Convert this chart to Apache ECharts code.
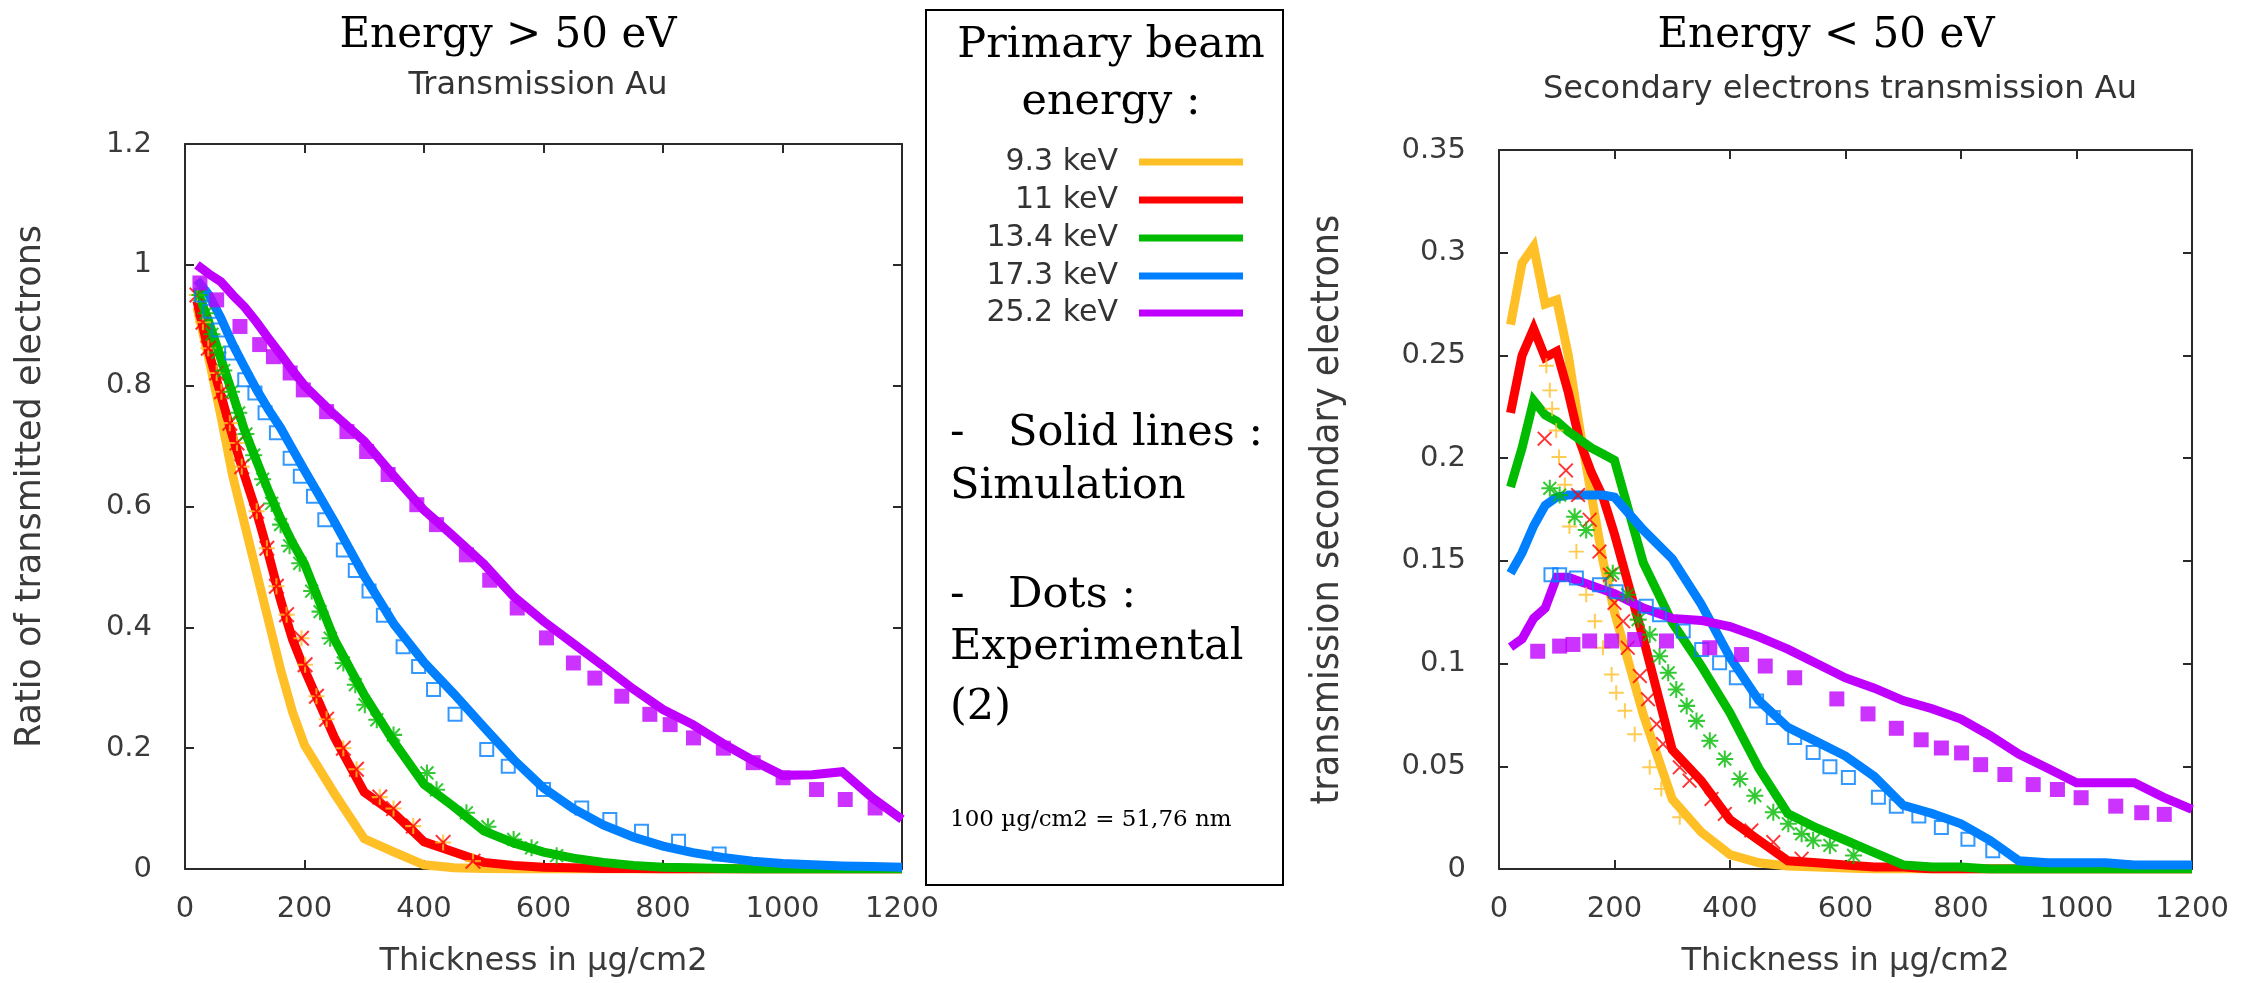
<!DOCTYPE html>
<html>
<head>
<meta charset="utf-8">
<script src="https://cdn.jsdelivr.net/npm/echarts@6/dist/echarts.min.js"></script>
<style>
html,body{margin:0;padding:0;background:#fff;}
#chart{width:2250px;height:983px;}
</style>
</head>
<body>
<div id="chart"></div>
<script>
// ---------- DATA ----------
const ENERGIES = ['9.3 keV', '11 keV', '13.4 keV', '17.3 keV', '25.2 keV'];
const COLORS = ['#ffbf26', '#ff0000', '#00bb00', '#0080ff', '#bf00ff'];

// thickness (µg/cm2) of simulation points
const X_SIM = [20,40,60,80,100,120,140,160,180,200,250,300,350,400,450,500,550,600,650,700,750,800,850,900,950,1000,1050,1100,1150,1200];

// Left chart: Energy > 50 eV — simulation (ratio of transmitted electrons)
const SIM_L_93  = [0.93,0.845,0.75,0.65,0.57,0.49,0.41,0.33,0.26,0.205,0.125,0.05,0.028,0.007,0.002,0.001,0,0,0,0,0,0,0,0,0,0,0,0,0,0];
const SIM_L_11  = [0.94,0.855,0.785,0.715,0.65,0.59,0.52,0.445,0.38,0.33,0.218,0.127,0.092,0.045,0.028,0.011,0.006,0.003,0.002,0.001,0.001,0,0,0,0,0,0,0,0,0];
const SIM_L_134 = [0.96,0.905,0.845,0.785,0.725,0.675,0.625,0.58,0.54,0.505,0.38,0.288,0.21,0.14,0.103,0.063,0.043,0.028,0.018,0.011,0.006,0.003,0.002,0.001,0,0,0,0,0,0];
const SIM_L_173 = [0.975,0.95,0.912,0.868,0.83,0.793,0.76,0.73,0.695,0.66,0.575,0.485,0.405,0.342,0.29,0.235,0.181,0.134,0.1,0.073,0.053,0.038,0.027,0.019,0.013,0.009,0.007,0.005,0.004,0.003];
const SIM_L_252 = [1.0,0.985,0.972,0.95,0.93,0.905,0.878,0.852,0.825,0.8,0.752,0.708,0.65,0.594,0.55,0.505,0.451,0.41,0.373,0.336,0.298,0.264,0.239,0.208,0.18,0.155,0.156,0.161,0.118,0.082];

// Left chart: experimental points [thickness, ratio]
const EXP_L_93  = [[20,0.95],[30,0.905],[39,0.862],[53,0.821],[61,0.79],[75,0.738],[87,0.705],[95,0.666],[120,0.592],[137,0.531],[153,0.468],[170,0.421],[195,0.382],[201,0.338],[220,0.286],[237,0.248],[265,0.2],[287,0.165],[326,0.119],[349,0.1],[382,0.071],[432,0.044],[482,0.013]];
const EXP_L_11  = [[20,0.95],[30,0.905],[39,0.862],[53,0.821],[61,0.79],[75,0.738],[87,0.705],[95,0.666],[120,0.592],[137,0.531],[153,0.468],[170,0.421],[195,0.382],[201,0.338],[220,0.286],[237,0.248],[265,0.2],[287,0.165],[326,0.119],[349,0.1],[382,0.071],[432,0.044],[482,0.013]];
const EXP_L_134 = [[25,0.95],[35,0.92],[45,0.885],[55,0.855],[65,0.825],[78,0.79],[90,0.755],[102,0.72],[115,0.685],[130,0.645],[145,0.605],[160,0.57],[175,0.535],[192,0.506],[212,0.46],[226,0.426],[243,0.382],[265,0.341],[285,0.305],[301,0.272],[321,0.247],[349,0.222],[405,0.159],[421,0.131],[471,0.093],[507,0.07],[550,0.049],[580,0.035],[622,0.022]];
const EXP_L_173 = [[28,0.95],[42,0.923],[56,0.892],[78,0.854],[100,0.81],[117,0.788],[134,0.755],[153,0.722],[176,0.68],[193,0.65],[215,0.617],[234,0.578],[265,0.528],[285,0.494],[308,0.46],[332,0.42],[365,0.368],[391,0.335],[416,0.297],[452,0.256],[505,0.198],[541,0.17],[600,0.1315],[664,0.101],[711,0.082],[764,0.0625],[826,0.046],[894,0.025]];
const EXP_L_252 = [[25,0.97],[53,0.942],[92,0.898],[125,0.868],[148,0.848],[176,0.821],[198,0.793],[237,0.757],[271,0.724],[304,0.691],[340,0.653],[388,0.603],[421,0.57],[471,0.52],[510,0.478],[556,0.432],[605,0.3825],[650,0.341],[686,0.316],[731,0.286],[778,0.256],[812,0.239],[851,0.217],[901,0.2],[951,0.176],[1001,0.151],[1057,0.1315],[1105,0.115],[1155,0.101]];

// Right chart: Energy < 50 eV — simulation (transmission secondary electrons)
const SIM_R_93  = [0.265,0.295,0.303,0.275,0.277,0.25,0.214,0.182,0.15,0.125,0.075,0.034,0.018,0.007,0.003,0.0015,0.001,0.0005,0,0,0,0,0,0,0,0,0,0,0,0];
const SIM_R_11  = [0.222,0.25,0.263,0.249,0.252,0.232,0.208,0.193,0.181,0.163,0.112,0.058,0.043,0.024,0.014,0.004,0.003,0.002,0.001,0.001,0,0,0,0,0,0,0,0,0,0];
const SIM_R_134 = [0.186,0.205,0.228,0.221,0.218,0.213,0.209,0.205,0.202,0.199,0.149,0.12,0.099,0.076,0.049,0.027,0.02,0.014,0.008,0.002,0.001,0.001,0,0,0,0,0,0,0,0];
const SIM_R_173 = [0.144,0.154,0.167,0.177,0.181,0.182,0.182,0.182,0.182,0.181,0.165,0.151,0.129,0.103,0.082,0.069,0.062,0.055,0.045,0.031,0.027,0.022,0.014,0.004,0.003,0.003,0.003,0.002,0.002,0.002];
const SIM_R_252 = [0.108,0.112,0.122,0.127,0.142,0.142,0.14,0.138,0.136,0.134,0.127,0.122,0.121,0.118,0.113,0.107,0.1,0.093,0.088,0.082,0.078,0.073,0.065,0.056,0.049,0.042,0.042,0.042,0.035,0.029];

// Right chart: experimental points [thickness, transmission]
const EXP_R_93  = [[82,0.245],[88,0.233],[92,0.224],[99,0.2135],[104,0.2006],[114,0.187],[122,0.1667],[134,0.1545],[151,0.1335],[166,0.1206],[180,0.1077],[195,0.0947],[203,0.0858],[218,0.077],[235,0.0656],[261,0.0495],[281,0.039],[313,0.0252]];
const EXP_R_11  = [[79,0.2095],[116,0.194],[137,0.182],[157,0.17],[174,0.1545],[192,0.1432],[200,0.1295],[215,0.1206],[223,0.1077],[244,0.0939],[258,0.0826],[273,0.0705],[284,0.0608],[313,0.0495],[330,0.043],[368,0.0341],[391,0.0268],[437,0.0188],[475,0.0131],[524,0.005]];
const EXP_R_134 = [[88,0.1853],[105,0.182],[131,0.1715],[151,0.165],[197,0.144],[223,0.1335],[241,0.1214],[261,0.1141],[278,0.1036],[293,0.0955],[307,0.0874],[325,0.0794],[342,0.0721],[365,0.0624],[391,0.0535],[417,0.0438],[443,0.0357],[475,0.0276],[501,0.022],[524,0.0171],[544,0.0139],[573,0.0115],[614,0.0066]];
const EXP_R_173 = [[90,0.1432],[105,0.1432],[134,0.1416],[174,0.1384],[203,0.135],[255,0.1279],[278,0.1238],[319,0.1158],[351,0.1068],[382,0.1004],[411,0.0931],[446,0.0818],[475,0.0737],[512,0.064],[544,0.0567],[573,0.0498],[605,0.0446],[657,0.0349],[688,0.0306],[727,0.0258],[766,0.0202],[812,0.0145],[855,0.0089]];
const EXP_R_252 = [[67,0.106],[105,0.1085],[128,0.1093],[157,0.111],[195,0.111],[235,0.1117],[290,0.111],[365,0.1077],[420,0.1044],[461,0.0988],[512,0.0931],[585,0.0828],[639,0.0755],[688,0.0685],[731,0.0629],[766,0.0589],[801,0.0565],[834,0.0508],[876,0.046],[925,0.0411],[967,0.0387],[1008,0.0347],[1068,0.0306],[1113,0.0274],[1152,0.0266]];

// ---------- BUILD ----------
const SIM_L = [SIM_L_93, SIM_L_11, SIM_L_134, SIM_L_173, SIM_L_252];
const SIM_R = [SIM_R_93, SIM_R_11, SIM_R_134, SIM_R_173, SIM_R_252];
const EXP_L = [EXP_L_93, EXP_L_11, EXP_L_134, EXP_L_173, EXP_L_252];
const EXP_R = [EXP_R_93, EXP_R_11, EXP_R_134, EXP_R_173, EXP_R_252];

const PLUS  = 'path://M8.7,0h2.6v8.7h8.7v2.6h-8.7v8.7h-2.6v-8.7h-8.7v-2.6h8.7z';
const CROSS = 'path://M1.8,0L10,8.2L18.2,0L20,1.8L11.8,10L20,18.2L18.2,20L10,11.8L1.8,20L0,18.2L8.2,10L0,1.8Z';
const STAR  = 'path://M8.8,0h2.4v8.8h8.8v2.4h-8.8v8.8h-2.4v-8.8h-8.8v-2.4h8.8z M3.3,1.6L10,8.3L16.7,1.6L18.4,3.3L11.7,10L18.4,16.7L16.7,18.4L10,11.7L3.3,18.4L1.6,16.7L8.3,10L1.6,3.3Z';
const MARKERS = [PLUS, CROSS, STAR, 'rect', 'rect'];

const SANS = "'DejaVu Sans', Verdana, sans-serif";
const SERIF = "'DejaVu Serif', serif";
const AX = '#2a2a2a';
const LBL = '#3a3a3a';

function pairs(xs, ys) { return xs.map((x, i) => [x, ys[i]]); }
function fmt(v) { return String(+v.toFixed(4)); }

function xAxes(grid, top) {
  return {
    type: 'value', gridIndex: grid, min: 0, max: 1200, interval: 200,
    position: top ? 'top' : 'bottom',
    axisLine: { show: true, onZero: false, lineStyle: { color: AX, width: 2 } },
    axisTick: { show: true, inside: true, length: 9, lineStyle: { color: AX, width: 2 } },
    axisLabel: { show: !top, margin: 26, fontFamily: SANS, fontSize: 29, color: LBL, formatter: fmt },
    splitLine: { show: false },
    name: top ? '' : 'Thickness in µg/cm2',
    nameLocation: 'middle', nameGap: 77,
    nameTextStyle: { fontFamily: SANS, fontSize: 32, color: LBL }
  };
}
function yAxes(grid, right, max, interval, name, gap, nameFont) {
  return {
    type: 'value', gridIndex: grid, min: 0, max: max, interval: interval,
    position: right ? 'right' : 'left',
    axisLine: { show: true, onZero: false, lineStyle: { color: AX, width: 2 } },
    axisTick: { show: true, inside: true, length: 9, lineStyle: { color: AX, width: 2 } },
    axisLabel: { show: !right, margin: 33, fontFamily: SANS, fontSize: 29, color: LBL, formatter: fmt },
    splitLine: { show: false },
    name: right ? '' : name,
    nameLocation: 'middle', nameGap: gap,
    nameTextStyle: nameFont
  };
}

const series = [];
function addChart(simArr, expArr, xIdx, yIdx, sizes) {
  simArr.forEach((ys, i) => {
    series.push({
      type: 'line', name: ENERGIES[i], xAxisIndex: xIdx, yAxisIndex: yIdx,
      data: pairs(X_SIM, ys), showSymbol: false, symbol: 'none',
      lineStyle: { color: COLORS[i], width: 9, join: 'miter' }, z: 2 + i * 0.01,
      animation: false, silent: true
    });
  });
  expArr.forEach((pts, i) => {
    const hollow = i === 3;
    series.push({
      type: 'scatter', name: ENERGIES[i] + ' exp', xAxisIndex: xIdx, yAxisIndex: yIdx,
      data: pts, symbol: MARKERS[i], symbolSize: sizes[i],
      itemStyle: hollow
        ? { color: 'rgba(255,255,255,0)', borderColor: COLORS[i], borderWidth: 2 }
        : { color: COLORS[i] },
      z: 5 + i * 0.01, animation: false, silent: true
    });
  });
}
addChart(SIM_L, EXP_L, 0, 0, [16, 16, 17, 13, 15]);
addChart(SIM_R, EXP_R, 2, 2, [15, 15, 17, 13, 15]);

// legend panel
const legendG = [];
legendG.push({ type: 'rect', shape: { x: 926, y: 10, width: 357, height: 875 },
  style: { fill: 'none', stroke: '#000', lineWidth: 2 } });
legendG.push({ type: 'text', x: 1111, y: 46, style: { text: 'Primary beam', font: "43px " + SERIF, fill: '#000', align: 'center', verticalAlign: 'middle' } });
legendG.push({ type: 'text', x: 1111, y: 103, style: { text: 'energy :', font: "43px " + SERIF, fill: '#000', align: 'center', verticalAlign: 'middle' } });
const LEG_Y = [162, 200, 238, 276, 313];
ENERGIES.forEach((e, i) => {
  legendG.push({ type: 'text', x: 1118, y: LEG_Y[i], style: { text: e, font: "30px " + SANS, fill: '#333', align: 'right', verticalAlign: 'middle' } });
  legendG.push({ type: 'rect', shape: { x: 1139, y: LEG_Y[i] - 3.5, width: 104, height: 7 }, style: { fill: COLORS[i] } });
});
const bodyLines = [
  ['-', 950, 434], ['Solid lines :', 1008, 434], ['Simulation', 950, 487],
  ['-', 950, 596], ['Dots :', 1008, 596], ['Experimental', 950, 648], ['(2)', 950, 708]
];
bodyLines.forEach(b => legendG.push({ type: 'text', x: b[1], y: b[2], style: { text: b[0], font: "43px " + SERIF, fill: '#000', align: 'left', verticalAlign: 'middle' } }));
legendG.push({ type: 'text', x: 950, y: 820, style: { text: '100 µg/cm2 = 51,76 nm', font: "23px " + SERIF, fill: '#000', align: 'left', verticalAlign: 'middle' } });

const titles = [
  { type: 'text', x: 508, y: 36, style: { text: 'Energy > 50 eV', font: "42px " + SERIF, fill: '#000', align: 'center', verticalAlign: 'middle' } },
  { type: 'text', x: 538, y: 86, style: { text: 'Transmission Au', font: "32px " + SANS, fill: '#333', align: 'center', verticalAlign: 'middle' } },
  { type: 'text', x: 1826, y: 36, style: { text: 'Energy < 50 eV', font: "42px " + SERIF, fill: '#000', align: 'center', verticalAlign: 'middle' } },
  { type: 'text', x: 1840, y: 90, style: { text: 'Secondary electrons transmission Au', font: "32px " + SANS, fill: '#333', align: 'center', verticalAlign: 'middle' } }
];

const option = {
  animation: false,
  backgroundColor: '#fff',
  grid: [
    { left: 185, top: 144, width: 717, height: 725, containLabel: false },
    { left: 1499, top: 150, width: 693, height: 722, containLabel: false }
  ],
  xAxis: [xAxes(0, false), xAxes(0, true), xAxes(1, false), xAxes(1, true)],
  yAxis: [
    yAxes(0, false, 1.2, 0.2, 'Ratio of transmitted electrons', 137, { fontFamily: SANS, fontSize: 35, color: LBL, padding: [0, 0, 0, 40] }),
    yAxes(0, true, 1.2, 0.2, '', 0, {}),
    yAxes(1, false, 0.35, 0.05, 'transmission secondary electrons', 152, { fontFamily: "'DejaVu Sans Condensed', 'Liberation Sans Narrow', 'DejaVu Sans', sans-serif", fontSize: 39, color: LBL }),
    yAxes(1, true, 0.35, 0.05, '', 0, {})
  ],
  series: series,
  graphic: titles.concat(legendG)
};

const chart = echarts.init(document.getElementById('chart'), null, { renderer: 'canvas' });
chart.setOption(option);
</script>
</body>
</html>
